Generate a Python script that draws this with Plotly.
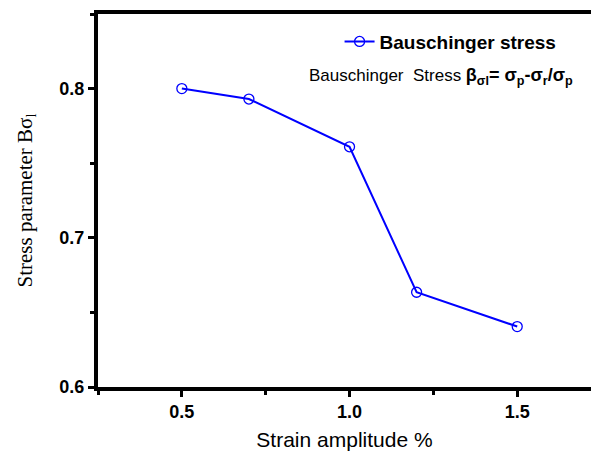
import plotly.graph_objects as go

strain = [0.5, 0.7, 1.0, 1.2, 1.5]
stress_param = [0.800, 0.793, 0.761, 0.6635, 0.6405]

x_ticks = [0.5, 1.0, 1.5]
x_tick_labels = ["0.5", "1.0", "1.5"]
y_ticks = [0.6, 0.7, 0.8]
y_tick_labels = ["0.6", "0.7", "0.8"]

fig = go.Figure()
fig.add_trace(go.Scatter(
    x=strain, y=stress_param, mode="lines+markers",
    name="<b>Bauschinger stress</b>",
    line=dict(color="#0000ff", width=2),
    marker=dict(symbol="circle-open", size=10, color="#0000ff", line=dict(width=1.3)),
))

fig.update_layout(
    width=591, height=456,
    margin=dict(l=98, r=0, t=14, b=69),
    paper_bgcolor="white", plot_bgcolor="white",
    font=dict(family="Liberation Sans, Arial", color="black"),
    showlegend=True,
    legend=dict(x=0.49, y=0.926, xanchor="left", yanchor="middle",
                bgcolor="rgba(0,0,0,0)", font=dict(size=19, color="black"),
                itemwidth=30),
    xaxis=dict(
        range=[0.25, 1.72], tickvals=x_ticks,
        ticktext=["<b>%s</b>" % t for t in x_tick_labels],
        showgrid=False, zeroline=False, showline=True, linewidth=3.5, linecolor="black",
        mirror=True, ticks="outside", ticklen=6, tickwidth=2.5, tickcolor="black",
        tickfont=dict(size=18, family="Liberation Sans, Arial", color="black"),
        minor=dict(tickvals=[0.25, 0.75, 1.25], ticks="outside", ticklen=4, tickwidth=2.5, tickcolor="black"),
        title=dict(text="Strain amplitude %", font=dict(size=21), standoff=12),
    ),
    yaxis=dict(
        range=[0.6, 0.85], tickvals=y_ticks,
        ticktext=["<b>%s</b>" % t for t in y_tick_labels],
        showgrid=False, zeroline=False, showline=True, linewidth=4, linecolor="black",
        mirror=False, ticks="outside", ticklen=6, tickwidth=2.5, tickcolor="black",
        tickfont=dict(size=18, family="Liberation Sans, Arial", color="black"),
        minor=dict(tickvals=[0.65, 0.75, 0.85], ticks="outside", ticklen=4, tickwidth=2.5, tickcolor="black"),
        title=dict(text="Stress parameter B\u03c3<sub>l</sub>",
                   font=dict(size=21, family="Liberation Serif, Times New Roman"), standoff=22),
    ),
)

fig.add_annotation(
    xref="paper", yref="paper", x=0.424, y=0.833, xanchor="left", yanchor="middle",
    showarrow=False, font=dict(size=17, color="black"),
    text="Bauschinger\u00a0\u00a0Stress <b><span style='font-size:18px'>\u03b2<sub>\u03c3l</sub>= \u03c3<sub>p</sub>-\u03c3<sub>r</sub>/\u03c3<sub>p</sub></span></b>",
)

fig.write_html("out.html")
